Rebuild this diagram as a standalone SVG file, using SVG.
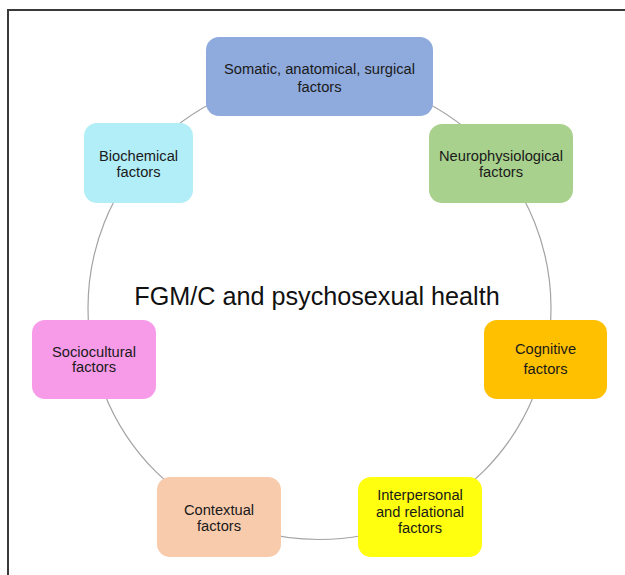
<svg xmlns="http://www.w3.org/2000/svg" width="625" height="575" viewBox="0 0 625 575">
  <style>
    .node rect { stroke: none; }
    .node text { font-family: "Liberation Sans", Arial, sans-serif; font-size: 14.7px; fill: #1a1a1a; text-anchor: middle; }
    .ring { fill: none; stroke: #a3a3a3; stroke-width: 1.2; }
    .frame { fill: none; stroke: #3a3a3a; stroke-width: 2; }
    .title { font-family: "Liberation Sans", Arial, sans-serif; font-size: 25.2px; fill: #111; text-anchor: middle; }
  </style>
  <rect width="625" height="575" fill="#ffffff"/>
  <!-- outer frame, open at the right and bottom -->
  <path class="frame" d="M8,577 V10 H627"/>

  <!-- ring linking the factor boxes -->
  <g id="connectors">
    <circle class="ring" cx="319.5" cy="308" r="231.5"/>
  </g>

  <text class="title" x="317" y="305">FGM/C and psychosexual health</text>

  <g id="somatic" class="node">
    <rect x="206" y="37" width="227" height="79" rx="13" fill="#8FAADC"/>
    <text x="319.5" y="74">Somatic, anatomical, surgical</text>
    <text x="319.5" y="92">factors</text>
  </g>

  <g id="neurophysiological" class="node">
    <rect x="429" y="124" width="144" height="79" rx="13" fill="#A9D18E"/>
    <text x="501" y="161">Neurophysiological</text>
    <text x="501" y="177">factors</text>
  </g>

  <g id="cognitive" class="node">
    <rect x="484" y="320" width="123" height="79" rx="13" fill="#FFC000"/>
    <text x="545.5" y="354">Cognitive</text>
    <text x="545.5" y="374">factors</text>
  </g>

  <g id="interpersonal" class="node">
    <rect x="358" y="477" width="124" height="80" rx="13" fill="#FFFF0F"/>
    <text x="420" y="500">Interpersonal</text>
    <text x="420" y="516.5">and relational</text>
    <text x="420" y="533">factors</text>
  </g>

  <g id="contextual" class="node">
    <rect x="157" y="477" width="124" height="80" rx="13" fill="#F8CBAD"/>
    <text x="219" y="515">Contextual</text>
    <text x="219" y="530.5">factors</text>
  </g>

  <g id="sociocultural" class="node">
    <rect x="32" y="320" width="124" height="79" rx="13" fill="#F79BE9"/>
    <text x="94" y="357">Sociocultural</text>
    <text x="94" y="372">factors</text>
  </g>

  <g id="biochemical" class="node">
    <rect x="84" y="123" width="109" height="80" rx="13" fill="#B2EEF8"/>
    <text x="138.5" y="161">Biochemical</text>
    <text x="138.5" y="177">factors</text>
  </g>
</svg>
